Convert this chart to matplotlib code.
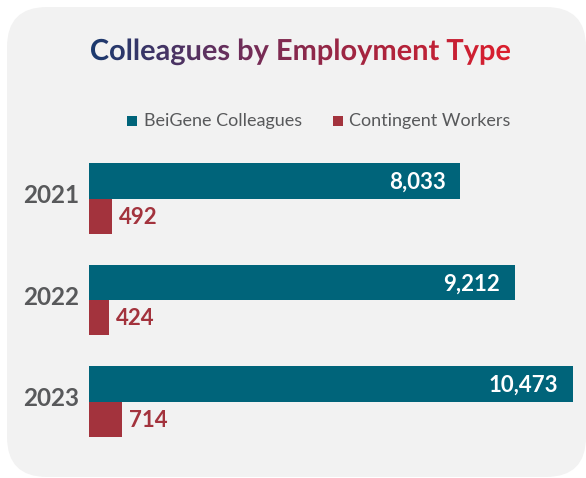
import matplotlib.pyplot as plt
import numpy as np
from matplotlib.patches import FancyBboxPatch, PathPatch, Rectangle
from matplotlib.textpath import TextPath
from matplotlib.font_manager import FontProperties
from matplotlib.transforms import Affine2D
from matplotlib.colors import LinearSegmentedColormap

# Data
years = ['2021', '2022', '2023']
colleagues = [8033, 9212, 10473]
contingent = [492, 424, 714]
series_names = ['BeiGene Colleagues', 'Contingent Workers']

blue = '#00647a'
red = '#a3333d'
grey_text = '#58595b'

W, H = 586, 478
fig = plt.figure(figsize=(W / 100, H / 100), dpi=100)
fig.patch.set_facecolor('white')

# background layer in pixel coords (y down)
bg = fig.add_axes([0, 0, 1, 1], zorder=0)
bg.set_xlim(0, W)
bg.set_ylim(H, 0)
bg.axis('off')
bg.add_patch(FancyBboxPatch((7, 7), 579, 470, boxstyle='round,pad=0,rounding_size=40',
                            facecolor='#f2f2f2', edgecolor='none'))

# gradient title
title = 'Colleagues by Employment Type'
fp = FontProperties(family='Lato', weight='bold')
tp = TextPath((0, 0), title, size=100, prop=fp)
ext = tp.get_extents()
s = 419 / ext.width
tp = Affine2D().translate(-ext.x0, 0).scale(s, -s).translate(91, 60).transform_path(tp)
patch = PathPatch(tp, facecolor='none', edgecolor='none')
bg.add_patch(patch)
cmap = LinearSegmentedColormap.from_list('title', ['#1b3a6f', '#6a2f5c', '#a8243e', '#dc1f2e'])
grad = np.linspace(0, 1, 256).reshape(1, -1)
im = bg.imshow(grad, cmap=cmap, extent=[91, 510, 72, 36], aspect='auto', zorder=2)
im.set_clip_path(patch)
bg.set_xlim(0, W)
bg.set_ylim(H, 0)

# legend
bg.add_patch(Rectangle((127, 116), 10, 10, facecolor=blue, edgecolor='none'))
bg.text(144, 121, series_names[0], fontsize=13, family='Lato', color=grey_text, va='center')
bg.add_patch(Rectangle((333, 116), 10, 10, facecolor=red, edgecolor='none'))
bg.text(349, 121, series_names[1], fontsize=13, family='Lato', color=grey_text, va='center')

# bars
ax = fig.add_axes([89 / W, 1 - 452.25 / H, 491 / W, 304.5 / H], zorder=1)
ax.patch.set_alpha(0)
y = np.arange(len(years))
h = 0.345
ax.barh(y - h / 2, colleagues, height=h, color=blue)
ax.barh(y + h / 2, contingent, height=h, color=red)
ax.set_xlim(0, 10625)
ax.set_ylim(2.5, -0.5)
ax.axis('off')

for i, v in enumerate(colleagues):
    ax.annotate(f'{v:,}', (v, i - h / 2), xytext=(-10.5, -1), textcoords='offset points',
                ha='right', va='center', color='white', fontsize=16, family='Lato', weight='bold')
for i, v in enumerate(contingent):
    ax.annotate(f'{v:,}', (v, i + h / 2), xytext=(5, -1), textcoords='offset points',
                ha='left', va='center', color=red, fontsize=16, family='Lato', weight='bold')
for i, yr in enumerate(years):
    ax.annotate(yr, (0, i), xytext=(-7, 2), textcoords='offset points',
                ha='right', va='center', color=grey_text, fontsize=17.5, family='Lato', weight='bold',
                annotation_clip=False)

fig.savefig('out.png', dpi=100)
